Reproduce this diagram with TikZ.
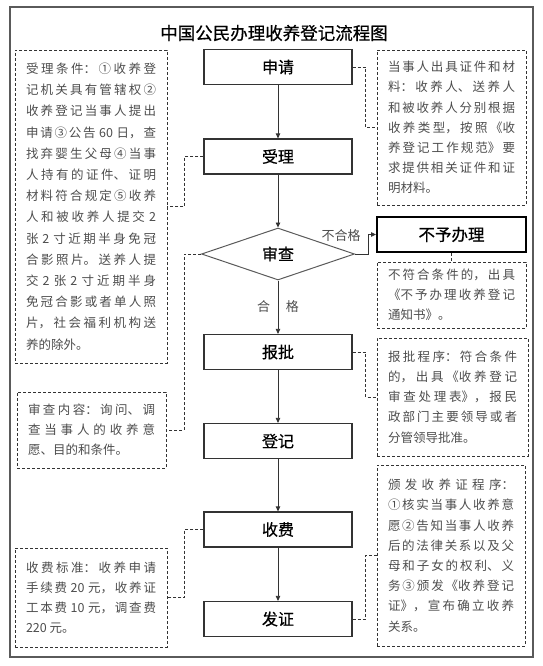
\documentclass[tikz,border=0pt]{standalone}
\usepackage{fontspec}
\usepackage{tikz}
\usetikzlibrary{arrows.meta,shapes.geometric}
\newfontfamily\cjk{Noto Sans CJK SC}
\newfontfamily\cjkmid[FakeBold=0.5]{Noto Sans CJK SC}
\XeTeXlinebreaklocale "zh"
\XeTeXlinebreakskip=0pt plus 3pt
\hbadness=10000
\setlength{\parindent}{0pt}
\definecolor{framegray}{HTML}{5a5a5a}
\definecolor{inkgray}{HTML}{333333}
\definecolor{textgray}{HTML}{4d4d4d}

\begin{document}
\begin{tikzpicture}[x=1pt, y=-1pt,
  every node/.style={font=\cjk},
  stage/.style={draw=inkgray, line width=1.2pt, minimum width=148pt, minimum height=35pt, font=\cjkmid\fontsize{16}{18}\selectfont},
  decide/.style={diamond, draw=framegray, line width=1pt, minimum width=153pt, minimum height=52pt, inner sep=0pt, font=\cjkmid\fontsize{16}{18}\selectfont},
  memo/.style={draw=inkgray, line width=0.9pt, dash pattern=on 3pt off 2pt, text width=127pt, inner xsep=11pt, inner ysep=4pt, align=justify, text=textgray, font=\cjk\fontsize{12.5}{20.2}\selectfont},
  guide/.style={draw=inkgray, line width=0.8pt, dash pattern=on 3pt off 2pt},
  flow/.style={draw=inkgray, line width=0.8pt, -{Triangle[length=5pt, width=4.5pt]}},
  hint/.style={text=textgray, font=\cjk\fontsize{13}{15}\selectfont}
]
  \useasboundingbox (0,0) rectangle (542,666);
  \draw[draw=framegray, line width=1.5pt] (10,7) rectangle (533,657);
  \node[font=\cjkmid\fontsize{17.5}{20}\selectfont] (title) at (274,33) {中国公民办理收养登记流程图};

  % Main steps
  \node[stage] (S1) at (278,67) {申请};
  \node[stage] (S2) at (278,156.5) {受理};
  \node[decide] (S3) at (278,254) {审查};
  \node[stage] (S4) at (278,352) {报批};
  \node[stage] (S5) at (278,441) {登记};
  \node[stage] (S6) at (278,529.5) {收费};
  \node[stage] (S7) at (278,619) {发证};
  \node[stage, draw=black, line width=2pt, minimum width=149pt, font=\cjkmid\fontsize{16.5}{18}\selectfont] (X) at (451.5,234.5) {不予办理};

  % Flow
  \draw[flow] (S1) -- (S2);
  \draw[flow] (S2) -- (S3);
  \draw[flow] (S3) -- (S4);
  \draw[flow] (S4) -- (S5);
  \draw[flow] (S5) -- (S6);
  \draw[flow] (S6) -- (S7);
  \draw[flow] (S3.east) -- ++(13,0) |- (X.west);
  \node[hint] (fail) at (341,236) {不合格};
  \node[hint] (pass) at (278,307) {合\hspace{16pt}格};

  % Notes, left side
  \node[memo, text width=130pt, minimum height=313pt, font=\cjk\fontsize{12.5}{21.2}\selectfont] (L1) at (91,206.5)
   {受理条件：①收养登\linebreak 记机关具有管辖权②\linebreak 收养登记当事人提出\linebreak 申请③公告 60 日，查\linebreak 找弃婴生父母④当事\linebreak 人持有的证件、证明\linebreak 材料符合规定⑤收养\linebreak 人和被收养人提交 2\linebreak 张 2 寸近期半身免冠\linebreak 合影照片。送养人提\linebreak 交 2 张 2 寸近期半身\linebreak 免冠合影或者单人照\linebreak 片，社会福利机构送\linebreak 养的除外。};
  \node[memo, minimum height=76pt] (L2) at (91.5,430)
   {审查内容：询问、调\linebreak 查当事人的收养意\linebreak 愿、目的和条件。};
  \node[memo, text width=130pt, minimum height=99pt] (L3) at (91,597.5)
   {收费标准：收养申请\linebreak 手续费 20 元，收养证\linebreak 工本费 10 元，调查费\linebreak 220 元。};

  % Notes, right side
  \node[memo, minimum height=155pt] (R1) at (451.5,127.5)
   {当事人出具证件和材\linebreak 料：收养人、送养人\linebreak 和被收养人分别根据\linebreak 收养类型，按照《收\linebreak 养登记工作规范》要\linebreak 求提供相关证件和证\linebreak 明材料。};
  \node[memo, minimum height=66pt] (R2) at (451.5,295)
   {不符合条件的，出具\linebreak 《不予办理收养登记\linebreak 通知书》。};
  \node[memo, text width=129pt, minimum height=118pt] (R3) at (452.5,397)
   {报批程序：符合条件\linebreak 的，出具《收养登记\linebreak 审查处理表》，报民\linebreak 政部门主要领导或者\linebreak 分管领导批准。};
  \node[memo, text width=126pt, minimum height=181pt] (R4) at (451,555.5)
   {颁发收养证程序：\linebreak ①核实当事人收养意\linebreak 愿②告知当事人收养\linebreak 后的法律关系以及父\linebreak 母和子女的权利、义\linebreak 务③颁发《收养登记\linebreak 证》，宣布确立收养\linebreak 关系。};

  % Dashed ties
  \draw[guide] (S1.east) -- ++(13,0) |- (R1.west);
  \draw[guide] (S2.west) -- ++(-19,0) |- (L1.east);
  \draw[guide] (S3.west) -- ++(-17,0) |- (L2.east);
  \draw[guide] (S4.east) -- ++(13,0) |- (R3.west);
  \draw[guide] (S6.west) -- ++(-19,0) |- (L3.east);
  \draw[guide] (S7.east) -- ++(13,0) |- (R4.west);
  \draw[guide] (X) -- (R2);
\end{tikzpicture}
\end{document}
